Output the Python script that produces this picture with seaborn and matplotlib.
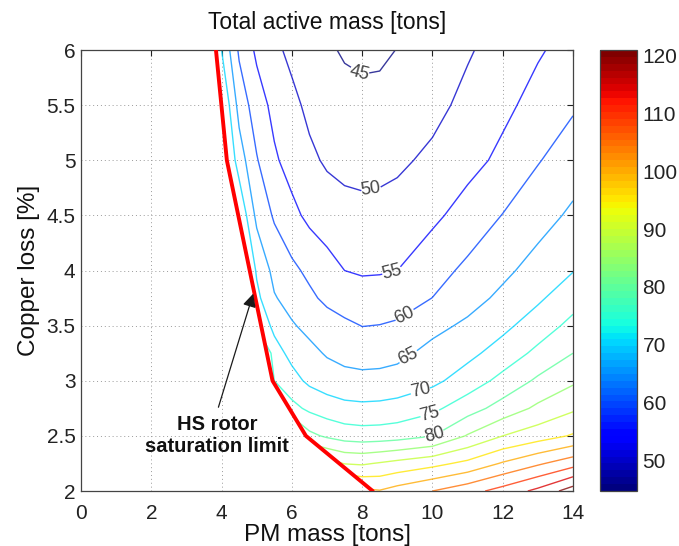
import numpy as np
import pandas as pd
import matplotlib
matplotlib.use("Agg")
import matplotlib.pyplot as plt
import seaborn as sns
from matplotlib.patches import Polygon
from matplotlib.colors import Normalize
from matplotlib.cm import ScalarMappable

# ---------------- data ----------------
pm_mass = [3.5, 4.0, 4.5, 5.0, 5.5, 6.0, 6.5, 7.0, 7.5, 8.0, 8.5, 9.0, 10.0, 11.0, 12.0, 13.0, 14.0]
cu_loss = [2.0, 2.25, 2.5, 2.75, 3.0, 3.25, 3.5, 3.75, 4.0, 4.5, 5.0, 5.5, 6.0]

mass_cu_200 = [150, 140, 130, 122, 116, 111, 108, 105, 103, 101, 100.3, 102, 105, 108.1, 111.9, 116.25, 122.5]
mass_cu_225 = [140, 130, 120, 112, 105, 100, 95, 92, 89.8, 89.4, 90.4, 91.5, 93.5, 96.25, 100.5, 104.25, 108]
mass_cu_250 = [135, 125, 115, 105, 95, 88, 81.3, 79.2, 77.77, 77.3, 77.46, 77.94, 79.86, 85.4, 90, 92.7, 95.5]
mass_cu_275 = [130, 120, 110, 98, 86, 76.5, 73.96, 72.4, 71.4, 71.1, 71.27, 71.8, 73.86, 77.8, 82.0, 86.0, 89.2]
mass_cu_300 = [125, 115, 105, 92, 75, 71.7, 69.0, 67.6, 66.7, 66.4, 66.55, 67.0, 68.85, 72.3, 76.5, 80.85, 84.2]
mass_cu_325 = [120, 110, 100, 88, 72, 68.6, 66.4, 64.5, 63.4, 62.9, 63.06, 63.7, 66.5, 68.7, 72.1, 76.2, 80]
mass_cu_350 = [115, 105, 95, 74, 68.8, 65.5, 63.6, 62.2, 61.0, 59.9, 60.1, 60.6, 63.6, 65.9, 68.8, 72.4, 76.4]
mass_cu_375 = [110, 100, 90, 71.3, 65.4, 63.1, 61.0, 58.9, 57.5, 57.0, 57.2, 57.8, 60.05, 63.1, 66.1, 69.2, 73.0]
mass_cu_400 = [105, 95, 80, 69.35, 63.5, 61.1, 58.9, 56.95, 55.0, 54.5, 54.6, 55.0, 58.1, 61.05, 63.9, 66.9, 69.8]
mass_cu_450 = [100, 88, 74.5, 63.7, 59.4, 56.3, 53.85, 52.37, 51.49, 51.2, 51.37, 51.89, 53.96, 57.0, 60.14, 63.0, 65.9]
mass_cu_500 = [95, 78, 67.6, 60.35, 55.7, 53.1, 50.9, 49.4, 48.73, 48.5, 48.66, 49.13, 51.0, 53.4, 56.1, 59.7, 62.5]
mass_cu_550 = [90, 75.3, 63.2, 57.3, 53.65, 51.15, 48.98, 47.51, 46.59, 46.21, 46.3, 46.73, 48.58, 51.3, 53.9, 56.6, 59.4]
mass_cu_600 = [85, 70, 59.2, 54.1, 51.0, 48.9, 47.2, 45.67, 44.5, 44.05, 44.2, 45.1, 47.4, 49.5, 52.0, 54.5, 56.7]

levels = [45, 50, 55, 60, 65, 70, 75, 80, 85, 90, 95, 100, 105, 110, 115, 120]
labelled_levels = [45, 50, 55, 60, 65, 70, 75, 80]
label_pm = [7.94, 8.27, 8.84, 9.17, 9.31, 9.65, 9.93, 10.07]
label_cu = [5.80, 4.69, 4.00, 3.63, 3.22, 2.92, 2.70, 2.49]

# HS rotor saturation limit
limit_pm = [3.84, 4.15, 5.45, 6.4, 8.3]
limit_cu = [6.0, 5.0, 3.0, 2.5, 2.0]

cbar_ticks = [50, 60, 70, 80, 90, 100, 110, 120]
cbar_range = (44.7, 121.0)

# ---------------- figure ----------------
sns.set_theme(style="white")
plt.rcParams['font.family'] = ['Liberation Sans', 'DejaVu Sans']

fig = plt.figure(figsize=(6.79, 5.46), dpi=100)
ax = fig.add_axes([0.1193, 0.1007, 0.7246, 0.8077])
cax = fig.add_axes([0.8837, 0.1007, 0.0545, 0.8077])

Z = np.array([mass_cu_200, mass_cu_225, mass_cu_250, mass_cu_275, mass_cu_300,
              mass_cu_325, mass_cu_350, mass_cu_375, mass_cu_400, mass_cu_450,
              mass_cu_500, mass_cu_550, mass_cu_600])
X, Y = np.meshgrid(pm_mass, cu_loss)

cmap = plt.get_cmap('jet', 64)
norm = Normalize(vmin=cbar_range[0], vmax=cbar_range[1])

cs = ax.contour(X, Y, Z, levels=levels, cmap=cmap, norm=norm, linewidths=1.0, alpha=0.78)
ax.clabel(cs, levels=labelled_levels, inline=True, fmt='%d', fontsize=13,
          colors='#111111', manual=list(zip(label_pm, label_cu)), inline_spacing=3)

clip_poly = Polygon(list(zip(limit_pm, limit_cu)) + [(8.3, 1.0), (16, 1.0), (16, 7), (3.84, 7)],
                    closed=True, transform=ax.transData)
cs.set_clip_path(clip_poly)

sns.lineplot(x=limit_pm, y=limit_cu, sort=False, estimator=None, color='#ff0000',
             linewidth=2.8, ax=ax, zorder=5)

ax.annotate("", xy=(4.90, 3.79), xytext=(3.91, 2.76),
            arrowprops=dict(arrowstyle='-|>', color='k', lw=0.9, mutation_scale=20,
                            shrinkA=0, shrinkB=0), zorder=6)
ax.text(3.88, 2.50, "HS rotor\nsaturation limit", ha='center', va='center',
        fontsize=14.5, fontweight='bold', linespacing=1.2, zorder=6, color='#111111')

ax.set_xlim(0, 14)
ax.set_ylim(2, 6)
ax.set_xticks(np.arange(0, 15, 2))
ax.set_yticks([2, 2.5, 3, 3.5, 4, 4.5, 5, 5.5, 6])
ax.set_yticklabels(['2', '2.5', '3', '3.5', '4', '4.5', '5', '5.5', '6'])
ax.grid(True, linestyle=(0, (1, 3)), color='#9a9a9a', linewidth=0.7)
ax.tick_params(direction='in', length=4, width=0.8, top=True, right=True,
               labelsize=15, colors='#222222', pad=4)
ax.tick_params(axis='x', pad=9)
for s in ax.spines.values():
    s.set_color('#444444')
    s.set_linewidth(0.9)
ax.set_xlabel("PM mass [tons]", fontsize=17.5, labelpad=1, color='#111111')
ax.set_ylabel("Copper loss [%]", fontsize=17.5, labelpad=5, color='#111111')
ax.set_title("Total active mass [tons]", fontsize=16.5, pad=15, color='#111111')

sm = ScalarMappable(norm=norm, cmap=cmap)
cb = fig.colorbar(sm, cax=cax, ticks=cbar_ticks)
cb.outline.set_edgecolor('#444444')
cb.outline.set_linewidth(0.9)
cax.tick_params(direction='in', length=3, width=0.8, left=True, right=True,
                labelsize=15, colors='#222222', pad=4)

fig.savefig("out.png", dpi=100)
